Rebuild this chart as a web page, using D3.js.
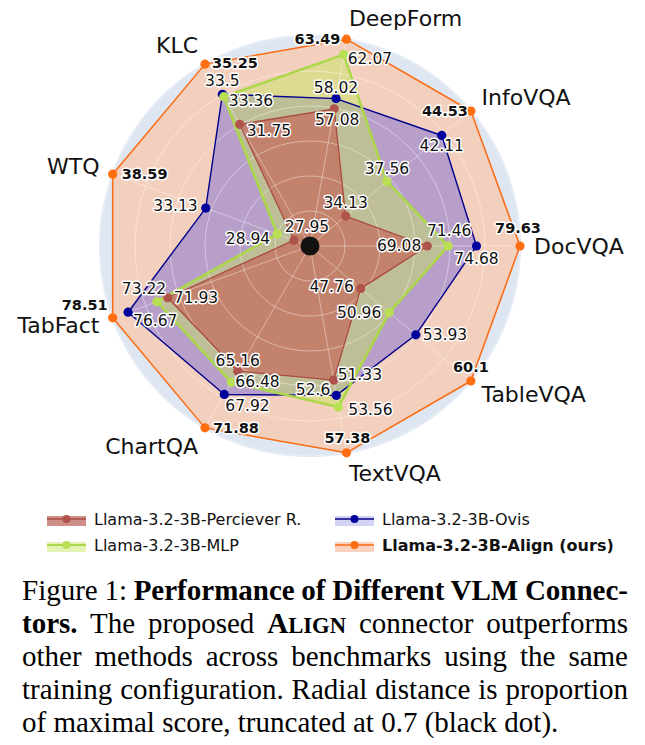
<!DOCTYPE html>
<html><head><meta charset="utf-8">
<script src="https://cdn.jsdelivr.net/npm/d3@7"></script>
<style>body{margin:0;background:#fff} svg{display:block}</style>
</head><body>
<svg id="c" width="645" height="745"></svg>
<script>
// ---- data ----
const axes = ["DeepForm","InfoVQA","DocVQA","TableVQA","TextVQA","ChartQA","TabFact","WTQ","KLC"];
const seriesNames = ["Llama-3.2-3B-Perciever R.","Llama-3.2-3B-MLP","Llama-3.2-3B-Ovis","Llama-3.2-3B-Align (ours)"];
const perceiver = [57.08,34.13,69.08,47.76,51.33,65.16,71.93,27.95,31.75];
const mlp       = [62.07,37.56,71.46,50.96,53.56,66.48,73.22,28.94,33.36];
const ovis      = [58.02,42.11,74.68,53.93,52.6,67.92,76.67,33.13,33.5];
const align     = [63.49,44.53,79.63,60.1,57.38,71.88,78.51,38.59,35.25];
const truncation = 0.7;
const gridTicks = [0.75,0.8,0.85,0.9,0.95,1.0];

// ---- layout / style ----
const cx = 310, cy = 246, R = 210;
const styles = {
  perceiver:{line:"#a94b41", marker:"#b0544b", fill:"rgb(200,75,70)", fillOp:0.53, lw:1.3, legendFill:"#cf8f88"},
  mlp:      {line:"#acd74a", marker:"#b8e052", fill:"rgb(200,230,90)", fillOp:0.45, lw:2.6, legendFill:"#e3f1b4"},
  ovis:     {line:"#00008c", marker:"#00009c", fill:"rgb(60,60,230)", fillOp:0.33, lw:1.4, legendFill:"#d3d3f3"},
  align:    {line:"#fb6b12", marker:"#ff6f12", fill:"#f4cdb9", fillOp:0.92, lw:1.5, legendFill:"#fad3bf"}
};
// label offsets: [anchor, dx, dy] per axis
const labelOff = {
  align:[["end",-6,0],["end",-3,0],["middle",-2,-18],["middle",0,-14],["middle",1,-15],["start",8,0],["end",-5,-13],["start",9,0],["start",7,-1]],
  ovis:[["middle",0,-11],["middle",0,11],["middle",0,13],["start",7,0],["end",-6,-5],["start",1,12],["start",5,9],["end",-8,-2],["middle",0,-13]],
  mlp:[["start",4,4],["middle",0,-12],["middle",1,-15],["end",-8,0],["start",10,3],["start",4,0],["middle",-13,-13],["end",-7,5],["start",5,4]],
  perceiver:[["middle",3,11],["middle",0,-13],["end",-6,0],["end",-7,-2],["start",4,-5],["middle",0,-10],["start",6,0],["middle",13,-13],["start",7,7]]
};

const series = [
  {key:"perceiver", name:seriesNames[0], values:perceiver},
  {key:"mlp", name:seriesNames[1], values:mlp},
  {key:"ovis", name:seriesNames[2], values:ovis},
  {key:"align", name:seriesNames[3], values:align, bold:true}
];
const maxes = axes.map((a,i)=>d3.max(series,s=>s.values[i]));

const angle = d3.scaleLinear().domain([0, axes.length]).range([10*Math.PI/180, (370)*Math.PI/180]);
const radius = d3.scaleLinear().domain([truncation, 1]).range([0, R]).clamp(true);
const prop = (v,i)=> v / maxes[i];
const px = (i,r)=> cx + r*Math.sin(angle(i));
const py = (i,r)=> cy - r*Math.cos(angle(i));

const svg = d3.select("#c");
const g = svg.append("g").attr("transform",`translate(${cx},${cy})`);

// background
g.append("circle").attr("r", radius(1)+1).attr("fill","#dee6f2");

// polygons in drawing order
const drawOrder = ["align","ovis","mlp","perceiver"];
const line = d3.lineRadial().angle((d,i)=>angle(i)).radius((d,i)=>radius(prop(d,i))).curve(d3.curveLinearClosed);
drawOrder.forEach(k=>{
  const s = series.find(s=>s.key===k), st = styles[k];
  g.append("path").attr("d", line(s.values)).attr("fill", st.fill).attr("fill-opacity", st.fillOp).attr("stroke","none");
});
// grid on top of fills (light)
const grid = g.append("g").attr("stroke","#ffffff").attr("stroke-opacity",0.4).attr("fill","none").attr("stroke-width",1);
gridTicks.forEach(t=> grid.append("circle").attr("r", radius(t)));
axes.forEach((a,i)=> grid.append("line").attr("x1",0).attr("y1",0)
  .attr("x2", radius(1)*Math.sin(angle(i))).attr("y2", -radius(1)*Math.cos(angle(i))));

drawOrder.forEach(k=>{
  const s = series.find(s=>s.key===k), st = styles[k];
  g.append("path").attr("d", line(s.values)).attr("fill","none").attr("stroke", st.line)
    .attr("stroke-width", st.lw).attr("stroke-linejoin","round");
  g.selectAll(null).data(s.values).enter().append("circle")
    .attr("cx",(d,i)=>radius(prop(d,i))*Math.sin(angle(i)))
    .attr("cy",(d,i)=>-radius(prop(d,i))*Math.cos(angle(i)))
    .attr("r",4.6).attr("fill",st.marker);
});

// truncation dot
g.append("circle").attr("r",9.5).attr("fill","#141111");

// value labels
const labG = svg.append("g").attr("font-family","'DejaVu Sans', sans-serif");
series.forEach(s=>{
  s.values.forEach((v,i)=>{
    const r = radius(prop(v,i)); const o = labelOff[s.key][i];
    labG.append("text").attr("x", px(i,r)+o[1]).attr("y", py(i,r)+o[2])
      .attr("text-anchor", o[0]).attr("dominant-baseline","central")
      .attr("font-size", s.bold?14.5:15.5).attr("font-weight", s.bold?"bold":"normal")
      .attr("fill","#111").attr("stroke","#fff").attr("stroke-width",3).attr("stroke-linejoin","round")
      .attr("paint-order","stroke").text(v);
  });
});

// axis labels
axes.forEach((a,i)=>{
  const th = angle(i), r = 224;
  const deg = th*180/Math.PI % 360;
  svg.append("text").attr("x", px(i,r)).attr("y", py(i,r) - 7*Math.cos(th))
    .attr("text-anchor", deg < 180 ? "start" : "end").attr("dominant-baseline","central")
    .attr("font-family","'DejaVu Sans', sans-serif").attr("font-size",22).attr("fill","#111").text(a);
});

// legend
const legendPos = [[47,519],[47,545],[335,519],[335,545]];
series.forEach((s,j)=>{
  const [lx,ly] = legendPos[j], st = styles[s.key];
  const lg = svg.append("g");
  lg.append("rect").attr("x",lx).attr("y",ly-3).attr("width",39).attr("height",10).attr("fill",st.legendFill);
  lg.append("line").attr("x1",lx).attr("x2",lx+39).attr("y1",ly).attr("y2",ly).attr("stroke",st.line).attr("stroke-width",Math.min(st.lw,2));
  lg.append("circle").attr("cx",lx+19.5).attr("cy",ly).attr("r",4).attr("fill",st.marker);
  lg.append("text").attr("x",lx+47).attr("y",ly).attr("dominant-baseline","central")
    .attr("font-family","'DejaVu Sans', sans-serif").attr("font-size",16)
    .attr("font-weight", s.bold?"bold":"normal").attr("fill","#111").text(s.name);
});

// caption
const capLines = [
  [["Figure 1: ",0],["Performance of Different VLM Connec-",1]],
  [["tors.",1],[" The proposed ",0],["A",1],["LIGN",2],[" connector outperforms",0]],
  [["other methods across benchmarks using the same",0]],
  [["training configuration. Radial distance is proportion",0]],
  [["of maximal score, truncated at 0.7 (black dot).",0]]
];
const capX = 22, capW = 606, capY0 = 600, capDY = 33, capFS = 29;
capLines.forEach((ln,li)=>{
  const t = svg.append("text").attr("x",capX).attr("y",capY0+li*capDY)
    .attr("font-family","'Liberation Serif', 'Times New Roman', serif").attr("font-size",capFS).attr("fill","#000");
  ln.forEach(([str,st])=>{
    t.append("tspan").text(str).attr("font-weight", st?"bold":"normal")
      .attr("font-size", st===2 ? capFS*0.78 : capFS);
  });
  const w = t.node().getComputedTextLength();
  if(li < capLines.length-1){
    const spaces = ln.map(x=>x[0]).join("").split(" ").length-1;
    t.attr("word-spacing", (capW - w)/spaces);
  }
});
</script>
</body></html>
